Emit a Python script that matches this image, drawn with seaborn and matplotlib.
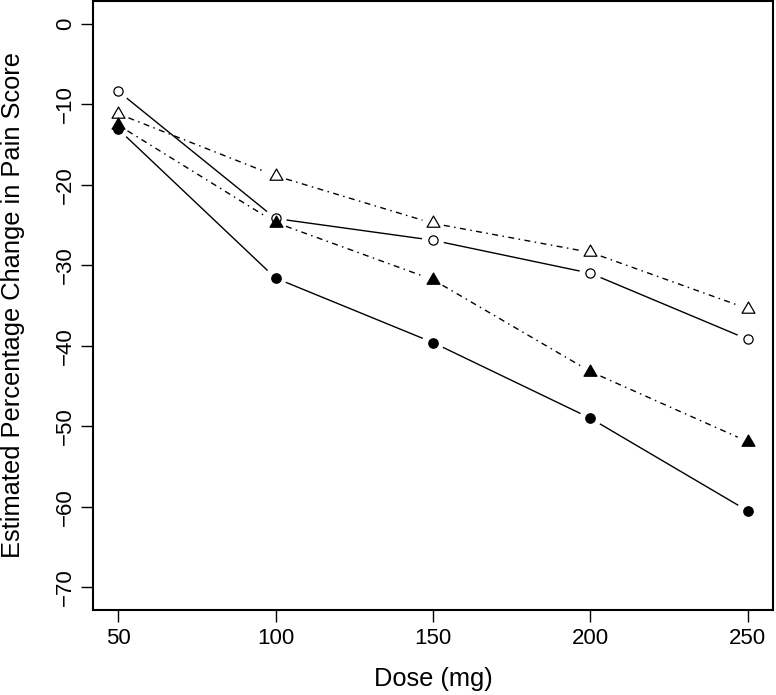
import numpy as np
import pandas as pd
import matplotlib
matplotlib.use("Agg")
import matplotlib.pyplot as plt
from matplotlib.path import Path
import seaborn as sns

# ---- data ----
dose = [50, 100, 150, 200, 250]
open_circle = [-8.4, -24.2, -26.9, -31.0, -39.2]
filled_circle = [-13.1, -31.6, -39.6, -49.0, -60.5]
open_triangle = [-11.2, -18.9, -24.8, -28.4, -35.4]
filled_triangle = [-12.6, -24.7, -31.8, -43.2, -51.9]
x_ticks = [50, 100, 150, 200, 250]
y_ticks = [0, -10, -20, -30, -40, -50, -60, -70]
x_label = "Dose (mg)"
y_label = "Estimated Percentage Change in Pain Score"

sns.set_theme(style="white")
plt.rcParams['font.family'] = ['Liberation Sans', 'DejaVu Sans']
plt.rcParams['axes.unicode_minus'] = True

fig = plt.figure(figsize=(7.76, 6.95), dpi=100)
ax = fig.add_axes([93 / 776, 1 - 610 / 695, 680 / 776, 609 / 695])

# R-style 4% axis extension
ax.set_xlim(50 - 0.04 * 200, 250 + 0.04 * 200)
ax.set_ylim(-70 - 0.04 * 70, 0 + 0.04 * 70)

tri = Path([(0, 1), (0.866, -0.5), (-0.866, -0.5), (0, 1)],
           [Path.MOVETO, Path.LINETO, Path.LINETO, Path.CLOSEPOLY])

series = [
    (open_circle, "o", "white", "-", 44),
    (filled_circle, "o", "black", "-", 46),
    (open_triangle, tri, "white", (0, (4.3, 3.2, 1.1, 3.2)), 115),
    (filled_triangle, tri, "black", (0, (4.3, 3.2, 1.1, 3.2)), 115),
]

gap = 11.0  # pixels: lines stop short of the points (R type="b")
to_disp = ax.transData
to_data = ax.transData.inverted()

for vals, marker, face, ls, size in series:
    pts = to_disp.transform(np.column_stack([dose, vals]))
    for p0, p1 in zip(pts[:-1], pts[1:]):
        d = p1 - p0
        L = np.hypot(*d)
        if L <= 2 * gap:
            continue
        u = d / L
        seg = to_data.transform(np.vstack([p0 + u * gap, p1 - u * gap]))
        ax.plot(seg[:, 0], seg[:, 1], color="black", lw=1.0, linestyle=ls,
                solid_capstyle="butt", dash_capstyle="butt", zorder=2)
    df = pd.DataFrame({"dose": dose, "value": vals})
    sns.scatterplot(data=df, x="dose", y="value", marker=marker, s=size,
                    color=face, edgecolor="black", linewidth=0.9, ax=ax,
                    zorder=3, legend=False)

ax.set_xticks(x_ticks)
ax.set_yticks(y_ticks)
ax.set_xticklabels([str(v) for v in x_ticks])
ax.set_yticklabels([f"\u2212{abs(v)}" if v < 0 else str(v) for v in y_ticks])

for s in ax.spines.values():
    s.set_visible(True)
    s.set_color("black")
    s.set_linewidth(1.5)

ax.tick_params(axis="both", direction="out", length=8.4, width=1.0,
               colors="black", labelsize=16, bottom=True, left=True)
ax.tick_params(axis="x", pad=4.5)
ax.tick_params(axis="y", pad=4, labelrotation=90)
for lab in ax.get_yticklabels():
    lab.set_va("center")
    lab.set_ha("right")

ax.set_xlabel(x_label, fontsize=18.3, color="black")
ax.set_ylabel(y_label, fontsize=18.3, color="black")
ax.xaxis.set_label_coords(0.5, -0.093)
ax.yaxis.set_label_coords(-0.1, 0.5)
ax.grid(False)
ax.set_facecolor("white")
fig.patch.set_facecolor("white")

fig.savefig("out.png", dpi=100, facecolor="white")
